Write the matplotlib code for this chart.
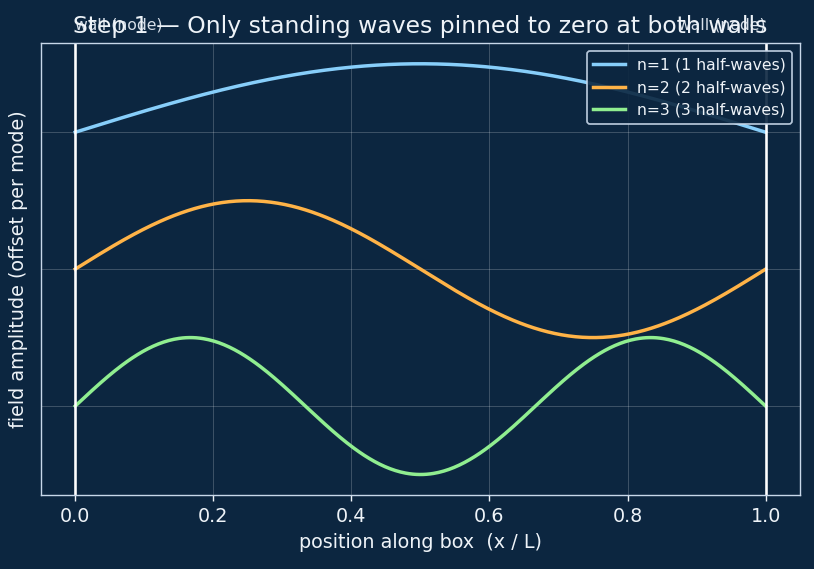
import matplotlib
matplotlib.use("Agg")
import matplotlib.pyplot as plt
import numpy as np

# modes drawn, their vertical offsets and colours
modes = [1, 2, 3]
offsets = [0.0, -2.0, -4.0]
colors = ["#87cefa", "#ffb347", "#90ee90"]
wall_positions = [0.0, 1.0]
x_ticks = [0.0, 0.2, 0.4, 0.6, 0.8, 1.0]

BG = "#0c2640"
FG = "#eef3f8"
SPINE = "#c8d8ea"

x = np.linspace(0, 1, 400)

fig = plt.figure(figsize=(8.14 / 1.25, 5.69 / 1.25), dpi=125, facecolor=BG)
ax = fig.add_axes([0.050, 0.130, 0.933, 0.794])
ax.set_facecolor(BG)

for n, off, c in zip(modes, offsets, colors):
    ax.plot(x, off + np.sin(n * np.pi * x), color=c, lw=2.0,
            label=f"n={n} ({n} half-waves)")

for w in wall_positions:
    ax.axvline(w, color="white", lw=1.5)

ax.set_xticks(x_ticks)
ax.set_yticks(offsets)
ax.set_yticklabels([])
ax.tick_params(colors=FG, labelsize=11)
ax.tick_params(axis="y", length=0)
for s in ax.spines.values():
    s.set_color(SPINE)
ax.grid(True, color="white", alpha=0.2, lw=0.6)

ax.set_xlabel("position along box  (x / L)", color=FG, fontsize=11)
ax.set_ylabel("field amplitude (offset per mode)", color=FG, fontsize=11)
ax.set_title("Step 1 — Only standing waves pinned to zero at both walls",
             color=FG, fontsize=13.5)

trans = ax.get_xaxis_transform()
ax.text(0.0, 1.04, "wall (node)", transform=trans, ha="left", va="center",
        color="#d8e0ea", fontsize=9)
ax.text(1.0, 1.04, "wall (node)", transform=trans, ha="right", va="center",
        color="#d8e0ea", fontsize=9)

leg = ax.legend(loc="upper right", fontsize=9, facecolor=BG, edgecolor=SPINE,
                framealpha=0.9)
for t in leg.get_texts():
    t.set_color(FG)

fig.savefig("out.png", dpi=125, facecolor=BG)
